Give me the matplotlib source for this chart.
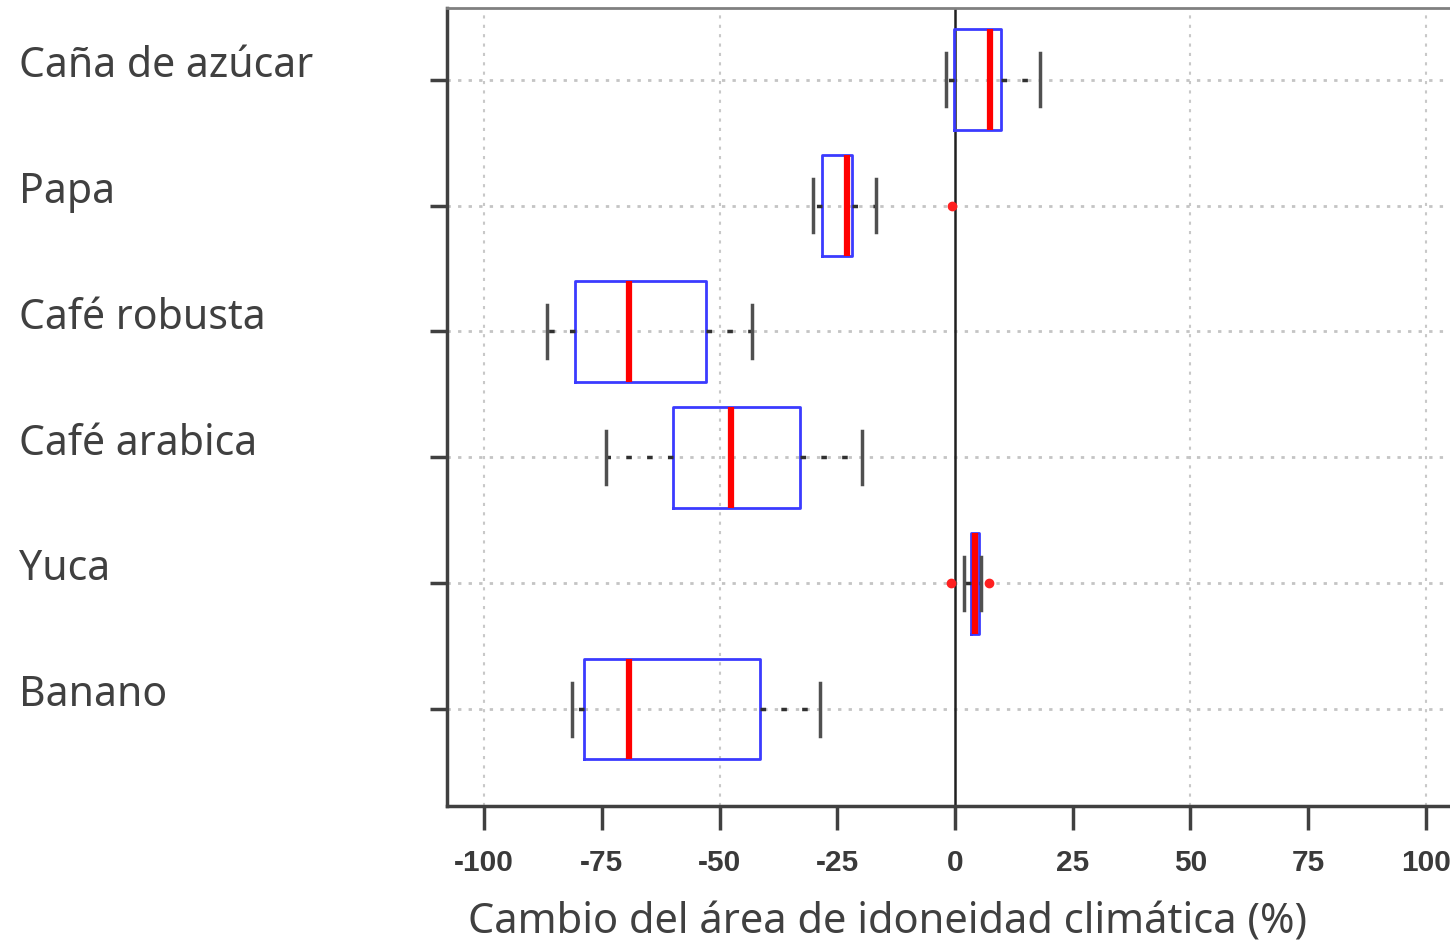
import matplotlib
matplotlib.use("Agg")
import matplotlib.pyplot as plt
import matplotlib.transforms as mtransforms

# crops, top to bottom
crops = ["Caña de azúcar", "Papa", "Café robusta", "Café arabica", "Yuca", "Banano"]

# five-number summaries (% change in climatic suitability area)
whis_lo = [-2.0, -30.1, -86.7, -74.2, 2.0, -81.3]
q1 = [-0.3, -28.2, -80.7, -59.8, 3.3, -78.9]
med = [7.5, -22.9, -69.3, -47.6, 4.3, -69.3]
q3 = [9.7, -21.8, -52.9, -33.0, 5.0, -41.5]
whis_hi = [18.0, -16.7, -43.1, -19.7, 5.6, -28.6]
outliers = [[], [-0.7], [], [], [-0.8, 7.3], []]

xticks = [-100, -75, -50, -25, 0, 25, 50, 75, 100]
xgrid = [-100, -50, 50, 100]

positions = list(range(len(crops), 0, -1))

stats = []
for i, name in enumerate(crops):
    stats.append(dict(label=name, whislo=whis_lo[i], q1=q1[i], med=med[i],
                      q3=q3[i], whishi=whis_hi[i], fliers=outliers[i]))

fig = plt.figure(figsize=(14.5, 9.47), dpi=100)
ax = fig.add_axes([447 / 1450, 1 - 806 / 947, (1463 - 447) / 1450, (806 - 8) / 947])

# background grid (dotted, R style)
for g in xgrid:
    ax.axvline(g, color="#c8c8c8", lw=1.5, ls=(0, (1.5, 3)), zorder=0)
for p in positions:
    ax.axhline(p, color="#c4c4c4", lw=2.0, ls=(0, (1.2, 2.6)), zorder=0)

ax.bxp(stats, positions=positions, vert=False, widths=0.8, showfliers=True,
       boxprops=dict(color="#3b3bff", lw=2.0),
       medianprops=dict(color="#ff0000", lw=4.5, solid_capstyle="butt"),
       whiskerprops=dict(color="#303030", lw=2.5, ls=(0, (1.6, 4.4))),
       capprops=dict(color="#505050", lw=2.5),
       capwidths=0.42,
       flierprops=dict(marker="o", markerfacecolor="#ff2020", markeredgecolor="#ff2020",
                       markersize=6))

ax.axvline(0, color="#202020", lw=1.8, zorder=1)

ax.set_xlim(-107.9, 107.9)
ax.set_ylim(0.23, 6.57)

ax.set_xticks(xticks)
ax.set_xticklabels([str(t) for t in xticks],
                   family=["Liberation Sans Narrow", "Liberation Sans", "DejaVu Sans"],
                   fontsize=21.5, fontweight="bold", color="#3a3a3a")
ax.tick_params(axis="x", length=17, width=2.5, color="#404040", pad=14)
ax.set_yticks(positions)
ax.set_yticklabels([""] * len(positions))
ax.tick_params(axis="y", length=12, width=2.5, color="#404040")

ax.spines["left"].set_color("#404040")
ax.spines["left"].set_linewidth(2.5)
ax.spines["bottom"].set_color("#404040")
ax.spines["bottom"].set_linewidth(2.5)
ax.spines["top"].set_color("#808080")
ax.spines["top"].set_linewidth(2.0)
ax.spines["right"].set_visible(False)

# crop names at the left, slightly above each row
trans = mtransforms.blended_transform_factory(fig.transFigure, ax.transData)
for name, p in zip(crops, positions):
    ax.text(19 / 1450, p + 0.11, name, transform=trans, ha="left", va="center",
            family=["Noto Sans", "DejaVu Sans"], fontsize=29.5, color="#404040")

fig.text(888 / 1450, 1 - 922 / 947, "Cambio del área de idoneidad climática (%)",
         ha="center", va="center", family=["Noto Sans", "DejaVu Sans"],
         fontsize=30, color="#404040")

fig.savefig("out.png", dpi=100)
